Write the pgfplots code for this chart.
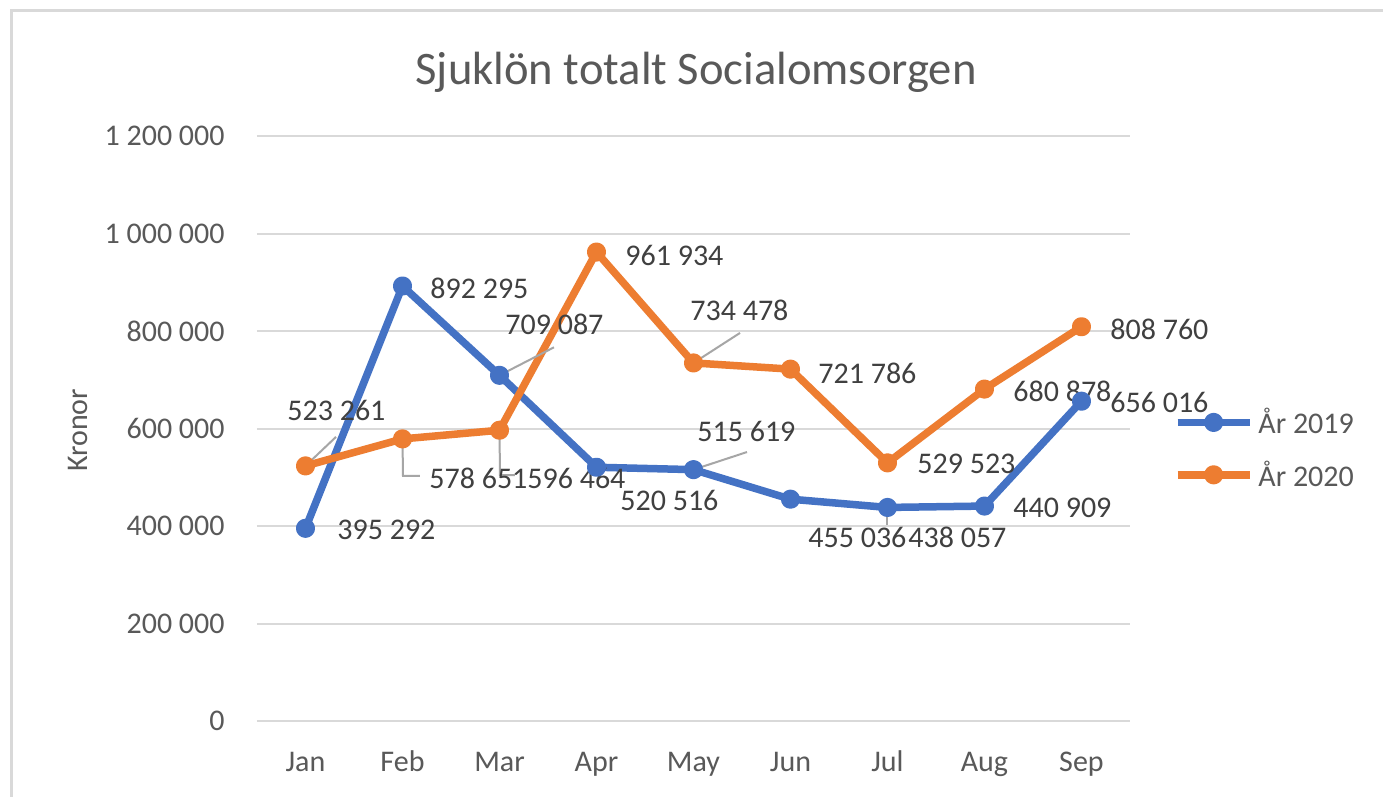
\documentclass[border=0pt]{standalone}
\usepackage{fontspec}
\setmainfont{Carlito}
\usepackage{pgfplots}
\pgfplotsset{compat=1.18}

\definecolor{c2019}{HTML}{4472C4}
\definecolor{c2020}{HTML}{ED7D31}
\definecolor{gridc}{HTML}{D9D9D9}
\definecolor{txt}{HTML}{595959}
\definecolor{lbl}{HTML}{404040}
\definecolor{leader}{HTML}{A6A6A6}

\begin{document}
\begin{tikzpicture}[
  lab/.style={anchor=west, inner sep=0pt, font=\fontsize{15}{18}\selectfont, text=lbl},
  lead/.style={leader, line width=1pt},
]
\useasboundingbox (0,0) rectangle (691.5pt,-398.5pt);
\fill[white] (0,0) rectangle (691.5pt,-398.5pt);
\draw[gridc, line width=1.5pt] (5.5pt,-398.5pt) -- (5.5pt,-5.5pt) -- (691.5pt,-5.5pt);

\begin{axis}[
  at={(128.5pt,-360.5pt)}, anchor=south west,
  scale only axis, width=436.5pt, height=292.5pt,
  xmin=-0.5, xmax=8.5, ymin=0, ymax=1200000,
  clip=false,
  axis x line*=bottom, axis y line*=left,
  axis line style={draw=none},
  major tick length=0pt,
  xtick={0,...,8},
  xticklabels={Jan,Feb,Mar,Apr,May,Jun,Jul,Aug,Sep},
  ytick={0,200000,...,1200000},
  scaled y ticks=false,
  yticklabel={\pgfmathprintnumber[assume math mode=true,fixed,precision=0,1000 sep={\ }]{\tick}},
  ymajorgrids,
  grid style={gridc, line width=1pt},
  tick label style={font=\fontsize{15}{18}\selectfont, text=txt, inner sep=0pt},
  xticklabel style={anchor=base, yshift=-25pt},
  yticklabel style={anchor=east, xshift=-16pt},
  title={Sjuklön totalt Socialomsorgen},
  title style={at={(axis description cs:0.503,1.068)}, anchor=base,
    font=\fontsize{23.3}{28}\selectfont, text=txt, inner sep=0pt},
  ylabel={Kronor},
  ylabel style={at={(axis description cs:-0.205,0.497)}, anchor=center,
    font=\fontsize{15}{18}\selectfont, text=txt},
  legend style={at={(axis description cs:1.043,0.549)}, anchor=north west,
    draw=none, fill=none, font=\fontsize{15}{18}\selectfont, text=txt,
    row sep=8pt, /tikz/every odd column/.append style={column sep=0.5pt}},
  legend cell align=left,
  legend image code/.code={
    \draw[mark repeat=2,mark phase=2,#1] plot coordinates {(0pt,0pt) (18pt,0pt) (36pt,0pt)};
  },
  every axis plot/.append style={line width=3.75pt, line join=round, mark=*,
    mark size=2.9pt, mark options={solid}},
]
% Ar 2019
\addplot[color=c2019] coordinates {
  (0,395292) (1,892295) (2,709087) (3,520516) (4,515619)
  (5,455036) (6,438057) (7,440909) (8,656016)
};
% Ar 2020
\addplot[color=c2020] coordinates {
  (0,523261) (1,578651) (2,596464) (3,961934) (4,734478)
  (5,721786) (6,529523) (7,680878) (8,808760)
};
\legend{År 2019, År 2020}

% leader lines
\draw[lead] (axis cs:2,709087) -- ++(27.25pt,14pt);
\draw[lead] (axis cs:4,515619) -- ++(26.75pt,8.8pt);
\draw[lead] (axis cs:6,438057) -- ++(0pt,-9pt);
\draw[lead] (axis cs:0,523261) -- ++(15.25pt,14.5pt);
\draw[lead] (axis cs:1,578651) -- ++(0.25pt,-18.5pt) -- ++(8.5pt,0pt);
\draw[lead] (axis cs:2,596464) -- ++(0.25pt,-22.4pt) -- ++(7.5pt,0pt);
\draw[lead] (axis cs:4,734478) -- ++(23.25pt,15pt);

% data labels 2019
\node[lab, xshift=15.75pt, yshift=-1pt]  at (axis cs:0,395292) {395 292};
\node[lab, xshift=13.75pt, yshift=-1pt]  at (axis cs:1,892295) {892 295};
\node[lab, xshift=2.75pt,  yshift=25.5pt] at (axis cs:2,709087) {709 087};
\node[lab, xshift=11.75pt, yshift=-16.5pt] at (axis cs:3,520516) {520 516};
\node[lab, xshift=1.75pt,  yshift=19pt]  at (axis cs:4,515619) {515 619};
\node[lab, xshift=8.75pt,  yshift=-19pt] at (axis cs:5,455036) {455 036};
\node[lab, xshift=10.25pt, yshift=-15pt] at (axis cs:6,438057) {438 057};
\node[lab, xshift=14.25pt, yshift=-1pt]  at (axis cs:7,440909) {440 909};
\node[lab, xshift=14.25pt, yshift=-0.5pt] at (axis cs:8,656016) {656 016};
% data labels 2020
\node[lab, xshift=-9.25pt, yshift=27.5pt] at (axis cs:0,523261) {523 261};
\node[lab, xshift=13.25pt, yshift=-19.5pt] at (axis cs:1,578651) {578 651};
\node[lab, xshift=13.75pt, yshift=-24pt] at (axis cs:2,596464) {596 464};
\node[lab, xshift=14.25pt, yshift=-1.5pt] at (axis cs:3,961934) {961 934};
\node[lab, xshift=-1.75pt, yshift=26.5pt] at (axis cs:4,734478) {734 478};
\node[lab, xshift=13.75pt, yshift=-2pt]  at (axis cs:5,721786) {721 786};
\node[lab, xshift=14.75pt, yshift=-0.5pt] at (axis cs:6,529523) {529 523};
\node[lab, xshift=14.25pt, yshift=-1pt]  at (axis cs:7,680878) {680 878};
\node[lab, xshift=14.25pt, yshift=-1.5pt] at (axis cs:8,808760) {808 760};
\end{axis}
\end{tikzpicture}
\end{document}
